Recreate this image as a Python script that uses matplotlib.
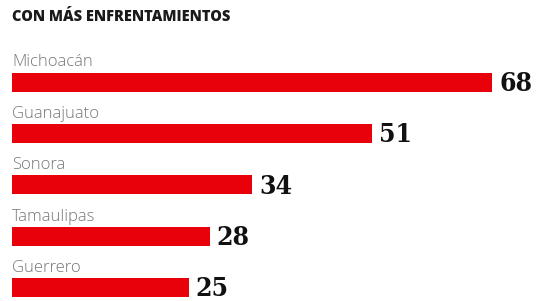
import matplotlib.pyplot as plt
import numpy as np

estados = ["Michoacán", "Guanajuato", "Sonora", "Tamaulipas", "Guerrero"]
enfrentamientos = [68, 51, 34, 28, 25]
titulo = "CON MÁS ENFRENTAMIENTOS"

W, H = 539, 301
fig = plt.figure(figsize=(W / 100, H / 100), dpi=100)
ax = fig.add_axes([0, 0, 1, 1])

px_unit = 7.06      # pixels per value unit
left = 12
y0 = 82             # center of first bar, px from top
step = 51.4

pos = np.arange(len(estados))
ax.barh(pos, enfrentamientos, height=19 / step, color="#e8000b", left=0)

ax.set_xlim(-left / px_unit, (W - left) / px_unit)
ax.set_ylim((H - y0) / step, -y0 / step)
ax.axis("off")

for i, (name, v) in enumerate(zip(estados, enfrentamientos)):
    ax.annotate(name, (0, i - 9.5 / step), xytext=(0, 1.5), textcoords="offset points",
                ha="left", va="bottom", fontsize=12, color="#777777",
                family="Open Sans", fontweight="light")
    ax.annotate(str(v), (v, i), xytext=(5, -1), textcoords="offset points",
                ha="left", va="center", fontsize=19, color="#111111",
                family="DejaVu Serif", fontweight="bold", fontstretch="condensed")

fig.text(left / W, 1 - 17 / H, titulo, ha="left", va="center", fontsize=10.5,
         fontweight="heavy", family="Open Sans", color="#1a1a1a")

fig.savefig("out.png", dpi=100, facecolor="white")
